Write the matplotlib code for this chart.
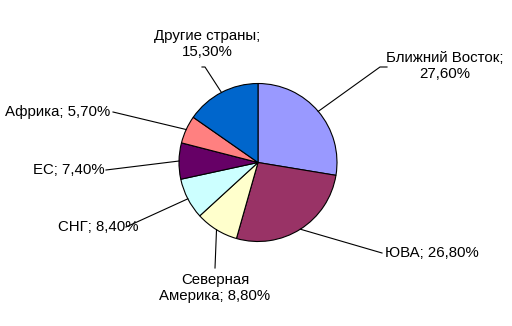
import matplotlib
matplotlib.use("Agg")
import matplotlib.pyplot as plt
import numpy as np

categories = ["Ближний Восток", "ЮВА", "Северная Америка", "СНГ", "ЕС", "Африка", "Другие страны"]
values = [27.6, 26.8, 8.8, 8.4, 7.4, 5.7, 15.3]
label_texts = ["Ближний Восток;\n27,60%", "ЮВА; 26,80%", "Северная\nАмерика; 8,80%",
               "СНГ; 8,40%", "ЕС; 7,40%", "Африка; 5,70%", "Другие страны;\n15,30%"]
colors = ["#9999FF", "#993366", "#FFFFCC", "#CCFFFF", "#660066", "#FF8080", "#0066CC"]

W, H = 512, 326
fig = plt.figure(figsize=(W / 100, H / 100), dpi=100)
ax = fig.add_axes([0, 0, 1, 1])
ax.set_xlim(0, W)
ax.set_ylim(0, H)
ax.set_aspect("equal")
ax.axis("off")

def py(y):
    return H - y

cx, cy, r = 258, py(162.5), 79
wedges, _ = ax.pie(values, colors=colors, startangle=90, counterclock=False,
                   center=(cx, cy), radius=r,
                   wedgeprops=dict(edgecolor="black", linewidth=0.8))
ax.set_xlim(0, W)
ax.set_ylim(0, H)

# label layout: (text x, text y, ha, va, line end points...) in pixel coords
layout = [
    (445, 66, "center", [(380, 67), (387, 67)]),
    (385, 253, "left", [(382, 253)]),
    (215, 288, "center", [(215, 268)]),
    (58, 227, "left", [(126, 227)]),
    (33, 170, "left", [(106, 170)]),
    (5, 112, "left", [(113, 112)]),
    (207, 44, "center", [(205, 67), (202, 67)]),
]

font = dict(family=["Liberation Sans", "DejaVu Sans"], size=10.8, color="black")
for w, txt, (tx, ty, ha, pts) in zip(wedges, label_texts, layout):
    ang = np.deg2rad((w.theta1 + w.theta2) / 2)
    ex, ey = cx + r * np.cos(ang), cy + r * np.sin(ang)
    ax.text(tx, py(ty), txt, ha=ha, va="center", linespacing=1.2, **font)
    xs = [ex] + [p[0] for p in pts]
    ys = [ey] + [py(p[1]) for p in pts]
    ax.plot(xs, ys, color="black", linewidth=0.8)

fig.savefig("out.png", dpi=100, facecolor="white")
